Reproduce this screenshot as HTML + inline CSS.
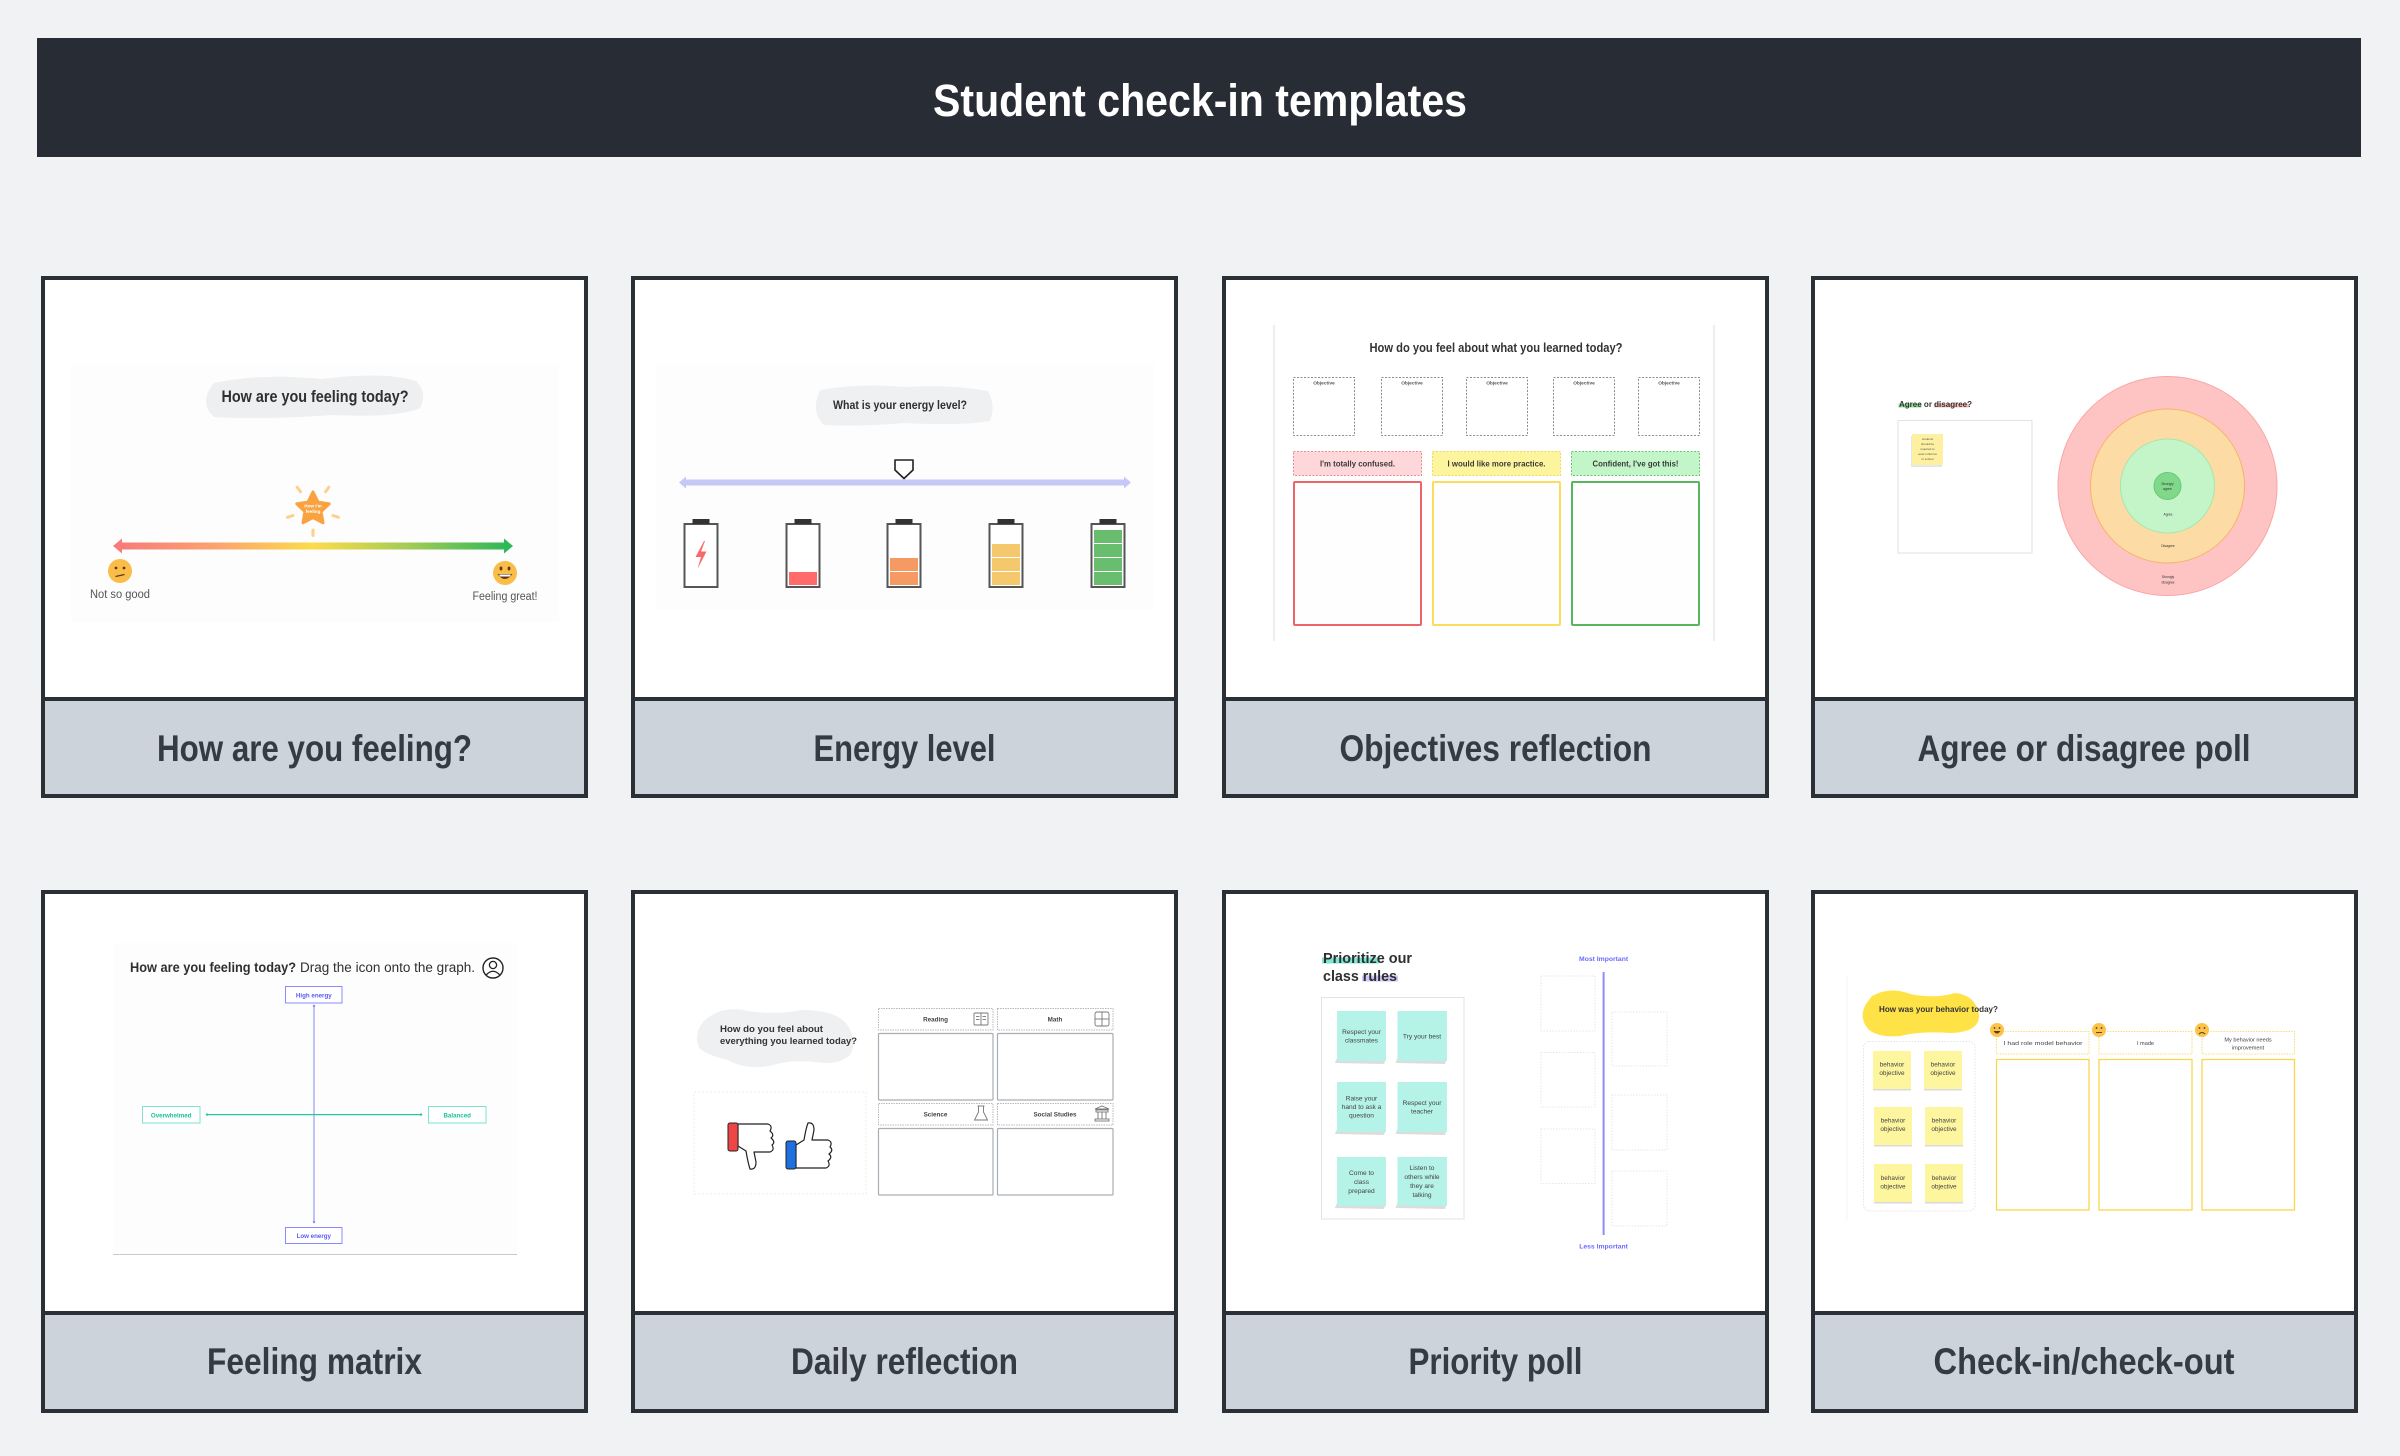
<!DOCTYPE html>
<html>
<head>
<meta charset="utf-8">
<style>
html,body{margin:0;padding:0;background:#f1f2f4;}
svg{display:block;}
text{font-family:"Liberation Sans",Arial,sans-serif;}
</style>
</head>
<body>
<svg width="2400" height="1456" viewBox="0 0 2400 1456" xmlns="http://www.w3.org/2000/svg">
<defs>
<linearGradient id="feel" x1="0" y1="0" x2="1" y2="0">
<stop offset="0" stop-color="#f77b7b"/>
<stop offset="0.28" stop-color="#fba96c"/>
<stop offset="0.5" stop-color="#fcdc4a"/>
<stop offset="0.75" stop-color="#a2cb56"/>
<stop offset="1" stop-color="#2fb857"/>
</linearGradient>
</defs>
<rect x="0" y="0" width="2400" height="1456" fill="#f1f2f4"/>

<!-- Header -->
<rect x="37" y="38" width="2324" height="119" fill="#282c35"/>
<text x="1200" y="116" font-size="45" font-weight="bold" fill="#ffffff" text-anchor="middle" textLength="534" lengthAdjust="spacingAndGlyphs">Student check-in templates</text>

<!-- ================= CARD FRAMES ================= -->
<g>
<rect x="41" y="276" width="547" height="522" fill="#2b2f36"/>
<rect x="45" y="280" width="539" height="417" fill="#ffffff"/>
<rect x="45" y="701" width="539" height="93" fill="#cdd3db"/>

<rect x="631" y="276" width="547" height="522" fill="#2b2f36"/>
<rect x="635" y="280" width="539" height="417" fill="#ffffff"/>
<rect x="635" y="701" width="539" height="93" fill="#cdd3db"/>

<rect x="1222" y="276" width="547" height="522" fill="#2b2f36"/>
<rect x="1226" y="280" width="539" height="417" fill="#ffffff"/>
<rect x="1226" y="701" width="539" height="93" fill="#cdd3db"/>

<rect x="1811" y="276" width="547" height="522" fill="#2b2f36"/>
<rect x="1815" y="280" width="539" height="417" fill="#ffffff"/>
<rect x="1815" y="701" width="539" height="93" fill="#cdd3db"/>

<rect x="41" y="890" width="547" height="523" fill="#2b2f36"/>
<rect x="45" y="894" width="539" height="417" fill="#ffffff"/>
<rect x="45" y="1315" width="539" height="94" fill="#cdd3db"/>

<rect x="631" y="890" width="547" height="523" fill="#2b2f36"/>
<rect x="635" y="894" width="539" height="417" fill="#ffffff"/>
<rect x="635" y="1315" width="539" height="94" fill="#cdd3db"/>

<rect x="1222" y="890" width="547" height="523" fill="#2b2f36"/>
<rect x="1226" y="894" width="539" height="417" fill="#ffffff"/>
<rect x="1226" y="1315" width="539" height="94" fill="#cdd3db"/>

<rect x="1811" y="890" width="547" height="523" fill="#2b2f36"/>
<rect x="1815" y="894" width="539" height="417" fill="#ffffff"/>
<rect x="1815" y="1315" width="539" height="94" fill="#cdd3db"/>
</g>

<!-- Labels -->
<g font-size="37" font-weight="bold" fill="#353b45" text-anchor="middle">
<text x="314.5" y="761" textLength="315" lengthAdjust="spacingAndGlyphs">How are you feeling?</text>
<text x="904.5" y="761" textLength="182" lengthAdjust="spacingAndGlyphs">Energy level</text>
<text x="1495.5" y="761" textLength="312" lengthAdjust="spacingAndGlyphs">Objectives reflection</text>
<text x="2084" y="761" textLength="333" lengthAdjust="spacingAndGlyphs">Agree or disagree poll</text>
<text x="314.5" y="1374" textLength="215" lengthAdjust="spacingAndGlyphs">Feeling matrix</text>
<text x="904.5" y="1374" textLength="227" lengthAdjust="spacingAndGlyphs">Daily reflection</text>
<text x="1495.5" y="1374" textLength="174" lengthAdjust="spacingAndGlyphs">Priority poll</text>
<text x="2084" y="1374" textLength="301" lengthAdjust="spacingAndGlyphs">Check-in/check-out</text>
</g>

<!-- ================= CARD 1 ================= -->
<g>
<rect x="71" y="363" width="488" height="259" fill="#fdfdfd"/>
<path d="M214,383 Q262,373 322,379 Q382,371 416,381 Q428,393 420,408 Q398,418 332,415 Q262,420 214,417 Q198,402 214,383Z" fill="#eeeff1"/>
<text x="315" y="402" font-size="17" font-weight="bold" fill="#2f2f2f" text-anchor="middle" textLength="187" lengthAdjust="spacingAndGlyphs">How are you feeling today?</text>
<rect x="120" y="542.5" width="386" height="7" fill="url(#feel)"/>
<polygon points="113,546 122,538.5 122,553.5" fill="#f77b7b"/>
<polygon points="513,546 504,538.5 504,553.5" fill="#2fb857"/>
<g stroke="#fcd08f" stroke-width="3" stroke-linecap="round">
<line x1="300.5" y1="491.8" x2="297.2" y2="487.2"/>
<line x1="325.5" y1="491.8" x2="328.8" y2="487.2"/>
<line x1="293" y1="515.5" x2="287.5" y2="517.3"/>
<line x1="333" y1="515.5" x2="338.5" y2="517.3"/>
<line x1="313" y1="530" x2="313" y2="535.5"/>
</g>
<polygon points="313,492 318,502.1 329.2,503.8 321.1,511.6 323,522.8 313,517.5 303,522.8 304.9,511.6 296.8,503.8 308,502.1" fill="#f9a23f" stroke="#f9a23f" stroke-width="3" stroke-linejoin="round"/>
<text x="313" y="507.5" font-size="4.6" font-weight="bold" fill="#ffffff" text-anchor="middle">How I'm</text>
<text x="313" y="513" font-size="4.6" font-weight="bold" fill="#ffffff" text-anchor="middle">feeling</text>
<circle cx="120" cy="571" r="12" fill="#fbbd4a"/>
<circle cx="116" cy="568" r="1.4" fill="#5b3a12"/>
<circle cx="124" cy="568" r="1.4" fill="#5b3a12"/>
<line x1="115.5" y1="576.5" x2="124.5" y2="574.5" stroke="#5b3a12" stroke-width="1.2"/>
<circle cx="505" cy="573" r="12" fill="#fbbd4a"/>
<ellipse cx="501" cy="568.5" rx="1.4" ry="2" fill="#5b3a12"/>
<ellipse cx="509" cy="568.5" rx="1.4" ry="2" fill="#5b3a12"/>
<path d="M497.5,574 Q505,584 512.5,574Z" fill="#5b3a12"/>
<path d="M499,574.5 L511,574.5 L510,576.5 L500,576.5Z" fill="#ffffff"/>
<text x="120" y="598" font-size="11.5" fill="#555" text-anchor="middle" textLength="60" lengthAdjust="spacingAndGlyphs">Not so good</text>
<text x="505" y="600" font-size="11.5" fill="#555" text-anchor="middle" textLength="65" lengthAdjust="spacingAndGlyphs">Feeling great!</text>
</g>

<!-- ================= CARD 2 ================= -->
<g>
<rect x="656" y="364" width="498" height="246" fill="#fdfdfd"/>
<path d="M820,390 Q860,383 905,387 Q950,384 988,391 Q996,405 990,421 Q960,426 905,423 Q860,427 824,425 Q810,412 820,390Z" fill="#eff0f2"/>
<text x="900" y="409" font-size="12" font-weight="bold" fill="#2f2f2f" text-anchor="middle" textLength="134" lengthAdjust="spacingAndGlyphs">What is your energy level?</text>
<rect x="684" y="479.5" width="442" height="6" fill="#c6c8f6"/>
<polygon points="679,482.5 686,476.5 686,488.5" fill="#c6c8f6"/>
<polygon points="1131,482.5 1124,476.5 1124,488.5" fill="#c6c8f6"/>
<path d="M895,460 L913,460 L913,470 L904,478.5 L895,470Z" fill="#ffffff" stroke="#222" stroke-width="1.6" stroke-linejoin="round"/>
<g stroke="#555" stroke-width="2" fill="#ffffff">
<rect x="684.5" y="524" width="33" height="63"/>
<rect x="786.5" y="524" width="33" height="63"/>
<rect x="887.5" y="524" width="33" height="63"/>
<rect x="989.5" y="524" width="33" height="63"/>
<rect x="1091.5" y="524" width="33" height="63"/>
</g>
<g fill="#333">
<rect x="692.5" y="519" width="17" height="5"/>
<rect x="794.5" y="519" width="17" height="5"/>
<rect x="895.5" y="519" width="17" height="5"/>
<rect x="997.5" y="519" width="17" height="5"/>
<rect x="1099.5" y="519" width="17" height="5"/>
</g>
<path d="M704,541 L695.5,557 L701,557 L697.5,569 L706.5,551.5 L701,551.5 L705,541Z" fill="#f86a6a"/>
<rect x="789" y="572" width="28" height="13" fill="#ff6b6b"/>
<rect x="890" y="572" width="28" height="13" fill="#f59a63"/>
<rect x="890" y="558" width="28" height="13" fill="#f59a63"/>
<rect x="992" y="572" width="28" height="13" fill="#f5c86e"/>
<rect x="992" y="558" width="28" height="13" fill="#f5c86e"/>
<rect x="992" y="544" width="28" height="13" fill="#f5c86e"/>
<rect x="1094" y="572" width="28" height="13" fill="#68bd6f"/>
<rect x="1094" y="558" width="28" height="13" fill="#68bd6f"/>
<rect x="1094" y="544" width="28" height="13" fill="#68bd6f"/>
<rect x="1094" y="530" width="28" height="13" fill="#68bd6f"/>
</g>

<!-- ================= CARD 3 ================= -->
<g>
<line x1="1274" y1="325" x2="1274" y2="641" stroke="#dcdcdc" stroke-width="1"/>
<line x1="1714" y1="325" x2="1714" y2="641" stroke="#dcdcdc" stroke-width="1"/>
<text x="1496" y="352" font-size="12.5" font-weight="bold" fill="#333" text-anchor="middle" textLength="253" lengthAdjust="spacingAndGlyphs">How do you feel about what you learned today?</text>
<g fill="none" stroke="#8e8e8e" stroke-width="1" stroke-dasharray="2,1.5">
<rect x="1293.5" y="377.5" width="61" height="58"/>
<rect x="1381.5" y="377.5" width="61" height="58"/>
<rect x="1466.5" y="377.5" width="61" height="58"/>
<rect x="1553.5" y="377.5" width="61" height="58"/>
<rect x="1638.5" y="377.5" width="61" height="58"/>
</g>
<g font-size="4.8" fill="#555" text-anchor="middle" font-weight="bold">
<text x="1324" y="384.5">Objective</text>
<text x="1412" y="384.5">Objective</text>
<text x="1497" y="384.5">Objective</text>
<text x="1584" y="384.5">Objective</text>
<text x="1669" y="384.5">Objective</text>
</g>
<rect x="1293.5" y="451.5" width="128" height="24" fill="#fdd7d9" stroke="#f08a8d" stroke-width="1" stroke-dasharray="2,1.5"/>
<rect x="1432.5" y="451.5" width="128" height="24" fill="#fdf59e" stroke="#f2d85a" stroke-width="1" stroke-dasharray="2,1.5"/>
<rect x="1571.5" y="451.5" width="128" height="24" fill="#c2f6c8" stroke="#6cc477" stroke-width="1" stroke-dasharray="2,1.5"/>
<g font-size="8.5" font-weight="bold" fill="#3a3a3a" text-anchor="middle">
<text x="1357.5" y="466.5" textLength="75" lengthAdjust="spacingAndGlyphs">I'm totally confused.</text>
<text x="1496.5" y="466.5" textLength="98" lengthAdjust="spacingAndGlyphs">I would like more practice.</text>
<text x="1635.5" y="466.5" textLength="86" lengthAdjust="spacingAndGlyphs">Confident, I've got this!</text>
</g>
<rect x="1294" y="482" width="127" height="143" fill="#fefefe" stroke="#ef6466" stroke-width="2" rx="1"/>
<rect x="1433" y="482" width="127" height="143" fill="#fefefe" stroke="#fcdc5c" stroke-width="2" rx="1"/>
<rect x="1572" y="482" width="127" height="143" fill="#fefefe" stroke="#58b65f" stroke-width="2" rx="1"/>
</g>

<!-- ================= CARD 4 ================= -->
<g>
<rect x="1898.5" y="403.5" width="23" height="4" fill="#8ee497"/>
<rect x="1934" y="403.5" width="35" height="4" fill="#f9bcbc"/>
<text x="1899" y="407" font-size="8.2" font-weight="bold" fill="#333" textLength="73" lengthAdjust="spacingAndGlyphs">Agree or disagree?</text>
<rect x="1898" y="420.5" width="134" height="132.5" fill="#ffffff" stroke="#e2e2e2" stroke-width="1"/>
<rect x="1911" y="436" width="31" height="31" fill="#e6e6e6"/>
<rect x="1912" y="434" width="31" height="31" fill="#fdf0a0"/>
<g font-size="3" fill="#555" text-anchor="middle">
<text x="1927.5" y="440">students</text>
<text x="1927.5" y="445">should be</text>
<text x="1927.5" y="450">required to</text>
<text x="1927.5" y="455">wear uniforms</text>
<text x="1927.5" y="460">in school</text>
</g>
<circle cx="2167.5" cy="486" r="109.5" fill="#fec4c4" stroke="#f9a5a5" stroke-width="1"/>
<circle cx="2167.5" cy="486" r="77" fill="#fddba5" stroke="#f7b26b" stroke-width="1"/>
<circle cx="2167.5" cy="486" r="47" fill="#c4f5c9" stroke="#a6e6ae" stroke-width="1"/>
<circle cx="2167.5" cy="486" r="13.5" fill="#80d98b" stroke="#6cc779" stroke-width="1"/>
<g font-size="3.4" fill="#333" text-anchor="middle">
<text x="2167.5" y="485">Strongly</text>
<text x="2167.5" y="490">agree</text>
<text x="2168" y="515.5">Agree</text>
<text x="2168" y="547">Disagree</text>
<text x="2168" y="578">Strongly</text>
<text x="2168" y="583.5">disagree</text>
</g>
</g>

<!-- ================= CARD 5 ================= -->
<g>
<rect x="113" y="943" width="404" height="311" fill="#fdfdfd"/>
<line x1="113" y1="1254.5" x2="517" y2="1254.5" stroke="#c9c9c9" stroke-width="1"/>
<text x="130" y="972" font-size="13.5" font-weight="bold" fill="#2f2f2f" textLength="166" lengthAdjust="spacingAndGlyphs">How are you feeling today?</text>
<text x="300" y="972" font-size="13.5" fill="#2f2f2f" textLength="175" lengthAdjust="spacingAndGlyphs">Drag the icon onto the graph.</text>
<circle cx="493" cy="968" r="10" fill="#ffffff" stroke="#222" stroke-width="1.4"/>
<circle cx="493" cy="965" r="3.6" fill="none" stroke="#222" stroke-width="1.3"/>
<path d="M486.2,975 Q493,967.5 499.8,975" fill="none" stroke="#222" stroke-width="1.3"/>
<line x1="314" y1="1005" x2="314" y2="1223" stroke="#a4a4f8" stroke-width="1.3"/>
<circle cx="314" cy="1006" r="1.2" fill="#8a8af8"/>
<circle cx="314" cy="1222" r="1.2" fill="#8a8af8"/>
<line x1="206" y1="1114.6" x2="422" y2="1114.6" stroke="#26c6a4" stroke-width="1.3"/>
<circle cx="207" cy="1114.6" r="1.2" fill="#26c6a4"/>
<circle cx="421" cy="1114.6" r="1.2" fill="#26c6a4"/>
<rect x="285.5" y="986.5" width="56.5" height="16.5" fill="#ffffff" stroke="#8a8aff" stroke-width="1"/>
<rect x="285.5" y="1227.5" width="56.5" height="16" fill="#ffffff" stroke="#8a8aff" stroke-width="1"/>
<rect x="142.5" y="1106.5" width="57.5" height="16.5" fill="#ffffff" stroke="#7de2cf" stroke-width="1"/>
<rect x="428.5" y="1106.5" width="57.5" height="16.5" fill="#ffffff" stroke="#7de2cf" stroke-width="1"/>
<g font-size="6.2" font-weight="bold" text-anchor="middle">
<text x="313.8" y="997.5" fill="#5a5af5">High energy</text>
<text x="313.8" y="1238" fill="#5a5af5">Low energy</text>
<text x="171.2" y="1117.3" fill="#19c29c">Overwhelmed</text>
<text x="457.2" y="1117.3" fill="#19c29c">Balanced</text>
</g>
</g>

<!-- ================= CARD 6 ================= -->
<g>
<path d="M705,1020 Q722,1005 748,1011 Q776,1015 802,1010 Q838,1010 848,1026 Q858,1042 850,1055 Q838,1066 815,1062 Q790,1059 770,1066 Q745,1070 728,1060 Q710,1056 700,1049 Q692,1034 705,1020Z" fill="#eff0f2"/>
<text x="720" y="1032" font-size="9" font-weight="bold" fill="#333" textLength="103" lengthAdjust="spacingAndGlyphs">How do you feel about</text>
<text x="720" y="1044" font-size="9" font-weight="bold" fill="#333" textLength="137" lengthAdjust="spacingAndGlyphs">everything you learned today?</text>
<rect x="694" y="1092" width="172" height="102" fill="none" stroke="#ececec" stroke-width="1" stroke-dasharray="2,2"/>
<path d="M738,1124 L768,1124 Q773,1126 770,1131 Q775,1135 771,1138 Q776,1142 772,1145 Q775,1150 770,1152 L754,1152 L756,1162 Q756,1170 750,1169 Q748,1163 746,1151 L738,1146 Z" fill="#ffffff" stroke="#222" stroke-width="1.2" stroke-linejoin="round"/>
<rect x="728" y="1123" width="10" height="28" rx="2" fill="#f04545" stroke="#222" stroke-width="1"/>
<path d="M796,1145 L804,1140 Q806,1128 808,1123 Q814,1122 814,1130 L812,1140 L828,1140 Q833,1142 830,1147 Q834,1150 829,1154 Q833,1157 828,1161 Q831,1166 826,1168 L796,1168 Z" fill="#ffffff" stroke="#222" stroke-width="1.2" stroke-linejoin="round"/>
<rect x="786" y="1141" width="10" height="28" rx="2" fill="#1e6fe0" stroke="#222" stroke-width="1"/>
<g fill="#ffffff" stroke="#b8b8b8" stroke-width="1" stroke-dasharray="1.5,1">
<rect x="878.5" y="1008.5" width="114.5" height="21.5"/>
<rect x="997.5" y="1008.5" width="115.5" height="21.5"/>
<rect x="878.5" y="1103.5" width="114.5" height="21.5"/>
<rect x="997.5" y="1103.5" width="115.5" height="21.5"/>
</g>
<g fill="#ffffff" stroke="#a9adb4" stroke-width="1.2">
<rect x="878.5" y="1033.5" width="114.5" height="66.5" rx="1"/>
<rect x="997.5" y="1033.5" width="115.5" height="66.5" rx="1"/>
<rect x="878.5" y="1128.5" width="114.5" height="66.5" rx="1"/>
<rect x="997.5" y="1128.5" width="115.5" height="66.5" rx="1"/>
</g>
<g font-size="6.3" font-weight="bold" fill="#444" text-anchor="middle">
<text x="935.5" y="1021.5">Reading</text>
<text x="1055" y="1021.5">Math</text>
<text x="935.5" y="1116.5">Science</text>
<text x="1055" y="1116.5">Social Studies</text>
</g>
<g fill="none" stroke="#777" stroke-width="0.9">
<rect x="974" y="1013" width="14" height="12" rx="1"/>
<line x1="981" y1="1013" x2="981" y2="1025"/>
<line x1="976" y1="1016.5" x2="979.5" y2="1016.5"/><line x1="976" y1="1019.5" x2="979.5" y2="1019.5"/>
<line x1="982.5" y1="1016.5" x2="986" y2="1016.5"/><line x1="982.5" y1="1019.5" x2="986" y2="1019.5"/>
<rect x="1095" y="1012" width="14" height="14" rx="2"/>
<line x1="1102" y1="1012" x2="1102" y2="1026"/><line x1="1095" y1="1019" x2="1109" y2="1019"/>
<path d="M978.5,1106 L978.5,1112 L974.5,1120 L987.5,1120 L983.5,1112 L983.5,1106"/>
<line x1="977.5" y1="1106" x2="984.5" y2="1106"/>
<path d="M1095,1109 L1102,1106 L1109,1109 Z"/>
<rect x="1096" y="1110" width="12" height="2"/>
<line x1="1098" y1="1112" x2="1098" y2="1119"/><line x1="1102" y1="1112" x2="1102" y2="1119"/><line x1="1106" y1="1112" x2="1106" y2="1119"/>
<rect x="1095" y="1119" width="14" height="2"/>
</g>
</g>

<!-- ================= CARD 7 ================= -->
<g>
<rect x="1322" y="957.5" width="57" height="6" fill="#7ee6d1"/>
<rect x="1362" y="975.5" width="36" height="6" fill="#cdc9f8"/>
<text x="1323" y="963" font-size="15" font-weight="bold" fill="#2f2f2f" textLength="89" lengthAdjust="spacingAndGlyphs">Prioritize our</text>
<text x="1323" y="981" font-size="15" font-weight="bold" fill="#2f2f2f" textLength="74" lengthAdjust="spacingAndGlyphs">class rules</text>
<rect x="1321.5" y="997.5" width="142.5" height="221.5" fill="#ffffff" stroke="#e3e3e3" stroke-width="1"/>
<g fill="#dcdcdc">
<polygon points="1335,1063 1337,1058 1386,1058 1384,1064"/>
<polygon points="1395.5,1063 1397.5,1058 1447,1058 1445,1064"/>
<polygon points="1335,1134 1337,1129 1386,1129 1384,1135"/>
<polygon points="1395.5,1134 1397.5,1129 1447,1129 1445,1135"/>
<polygon points="1335,1208 1337,1203 1386,1203 1384,1209"/>
<polygon points="1395.5,1208 1397.5,1203 1447,1203 1445,1209"/>
</g>
<g fill="#b5f2e8">
<rect x="1337" y="1011" width="49" height="50"/>
<rect x="1397.5" y="1011" width="49.5" height="50"/>
<rect x="1337" y="1082" width="49" height="50"/>
<rect x="1397.5" y="1082" width="49.5" height="50"/>
<rect x="1337" y="1157" width="49" height="49"/>
<rect x="1397.5" y="1157" width="49.5" height="49"/>
</g>
<g font-size="6.6" fill="#444" text-anchor="middle">
<text x="1361.5" y="1034">Respect your</text>
<text x="1361.5" y="1042.5">classmates</text>
<text x="1422" y="1038.5">Try your best</text>
<text x="1361.5" y="1100.5">Raise your</text>
<text x="1361.5" y="1109">hand to ask a</text>
<text x="1361.5" y="1117.5">question</text>
<text x="1422" y="1105">Respect your</text>
<text x="1422" y="1113.5">teacher</text>
<text x="1361.5" y="1175">Come to</text>
<text x="1361.5" y="1184">class</text>
<text x="1361.5" y="1193">prepared</text>
<text x="1422" y="1170">Listen to</text>
<text x="1422" y="1179">others while</text>
<text x="1422" y="1188">they are</text>
<text x="1422" y="1197">talking</text>
</g>
<text x="1603.6" y="961" font-size="6.8" font-weight="bold" fill="#6b6bff" text-anchor="middle">Most Important</text>
<text x="1603.6" y="1248.5" font-size="6.8" font-weight="bold" fill="#6b6bff" text-anchor="middle">Less Important</text>
<line x1="1603.6" y1="972" x2="1603.6" y2="1235" stroke="#8d8dfa" stroke-width="2"/>
<g fill="none" stroke="#e0e0e0" stroke-width="0.8" stroke-dasharray="1.5,1.5">
<rect x="1541" y="976" width="54" height="55"/>
<rect x="1541" y="1052.5" width="54" height="54.5"/>
<rect x="1541" y="1129" width="54" height="54.5"/>
<rect x="1612" y="1012" width="55" height="54"/>
<rect x="1612" y="1095" width="55" height="55"/>
<rect x="1612" y="1171" width="55" height="55"/>
</g>
</g>

<!-- ================= CARD 8 ================= -->
<g>
<line x1="1847" y1="976" x2="1847" y2="1221" stroke="#f4f4f4" stroke-width="1"/>
<path d="M1872,996 Q1890,986 1910,994 Q1935,999 1955,993 Q1976,995 1979,1015 Q1980,1032 1950,1033 Q1920,1031 1900,1036 Q1880,1038 1869,1030 Q1858,1018 1866,1004 Z" fill="#ffe246"/>
<text x="1879" y="1012" font-size="8.5" font-weight="bold" fill="#333" textLength="119" lengthAdjust="spacingAndGlyphs">How was your behavior today?</text>
<rect x="1863.5" y="1041.5" width="111.5" height="169.5" rx="6" fill="none" stroke="#dedede" stroke-width="0.8" stroke-dasharray="1.5,1.5"/>
<g fill="#dadada">
<rect x="1873" y="1089" width="38" height="1.5"/>
<rect x="1924" y="1089" width="38" height="1.5"/>
<rect x="1874" y="1145" width="38" height="1.5"/>
<rect x="1925" y="1145" width="38" height="1.5"/>
<rect x="1874" y="1202" width="38" height="1.5"/>
<rect x="1925" y="1202" width="38" height="1.5"/>
</g>
<g fill="#fef59f">
<rect x="1873" y="1051" width="38" height="38"/>
<rect x="1924" y="1051" width="38" height="38"/>
<rect x="1874" y="1107" width="38" height="38"/>
<rect x="1925" y="1107" width="38" height="38"/>
<rect x="1874" y="1164" width="38" height="38"/>
<rect x="1925" y="1164" width="38" height="38"/>
</g>
<g font-size="6.4" fill="#444" text-anchor="middle">
<text x="1892" y="1066.5">behavior</text><text x="1892" y="1075">objective</text>
<text x="1943" y="1066.5">behavior</text><text x="1943" y="1075">objective</text>
<text x="1893" y="1122.5">behavior</text><text x="1893" y="1131">objective</text>
<text x="1944" y="1122.5">behavior</text><text x="1944" y="1131">objective</text>
<text x="1893" y="1180">behavior</text><text x="1893" y="1188.5">objective</text>
<text x="1944" y="1180">behavior</text><text x="1944" y="1188.5">objective</text>
</g>
<g fill="#ffffff" stroke="#f7d54c" stroke-width="0.8" stroke-dasharray="1.5,1.2">
<rect x="1996.5" y="1031.5" width="92.5" height="22.5"/>
<rect x="2099" y="1031.5" width="93" height="22.5"/>
<rect x="2202" y="1031.5" width="92.5" height="22.5"/>
</g>
<g fill="#ffffff" stroke="#fcd54a" stroke-width="1.3">
<rect x="1996.5" y="1059.5" width="92.5" height="150.5"/>
<rect x="2099" y="1059.5" width="93" height="150.5"/>
<rect x="2202" y="1059.5" width="92.5" height="150.5"/>
</g>
<g font-size="5.6" fill="#444" text-anchor="middle">
<text x="2043" y="1045" textLength="79" lengthAdjust="spacingAndGlyphs">I had role model behavior</text>
<text x="2145.5" y="1045">I made</text>
<text x="2248" y="1041.5">My behavior needs</text>
<text x="2248" y="1049.5">improvement</text>
</g>
<circle cx="1997" cy="1030" r="7" fill="#fbc34a"/>
<circle cx="2099" cy="1030" r="7" fill="#fbc34a"/>
<circle cx="2202" cy="1030" r="7" fill="#fbc34a"/>
<g fill="#5b3a12">
<circle cx="1994.5" cy="1028" r="0.9"/><circle cx="1999.5" cy="1028" r="0.9"/>
<path d="M1993.5,1031 Q1997,1036 2000.5,1031Z"/>
<circle cx="2096.5" cy="1028" r="0.9"/><circle cx="2101.5" cy="1028" r="0.9"/>
<rect x="2096" y="1032" width="6" height="0.9"/>
<circle cx="2199.5" cy="1028" r="0.9"/><circle cx="2204.5" cy="1028" r="0.9"/>
</g>
<path d="M2199,1034 Q2202,1031 2205,1034" fill="none" stroke="#5b3a12" stroke-width="0.9"/>
</g>
</svg>
</body>
</html>
